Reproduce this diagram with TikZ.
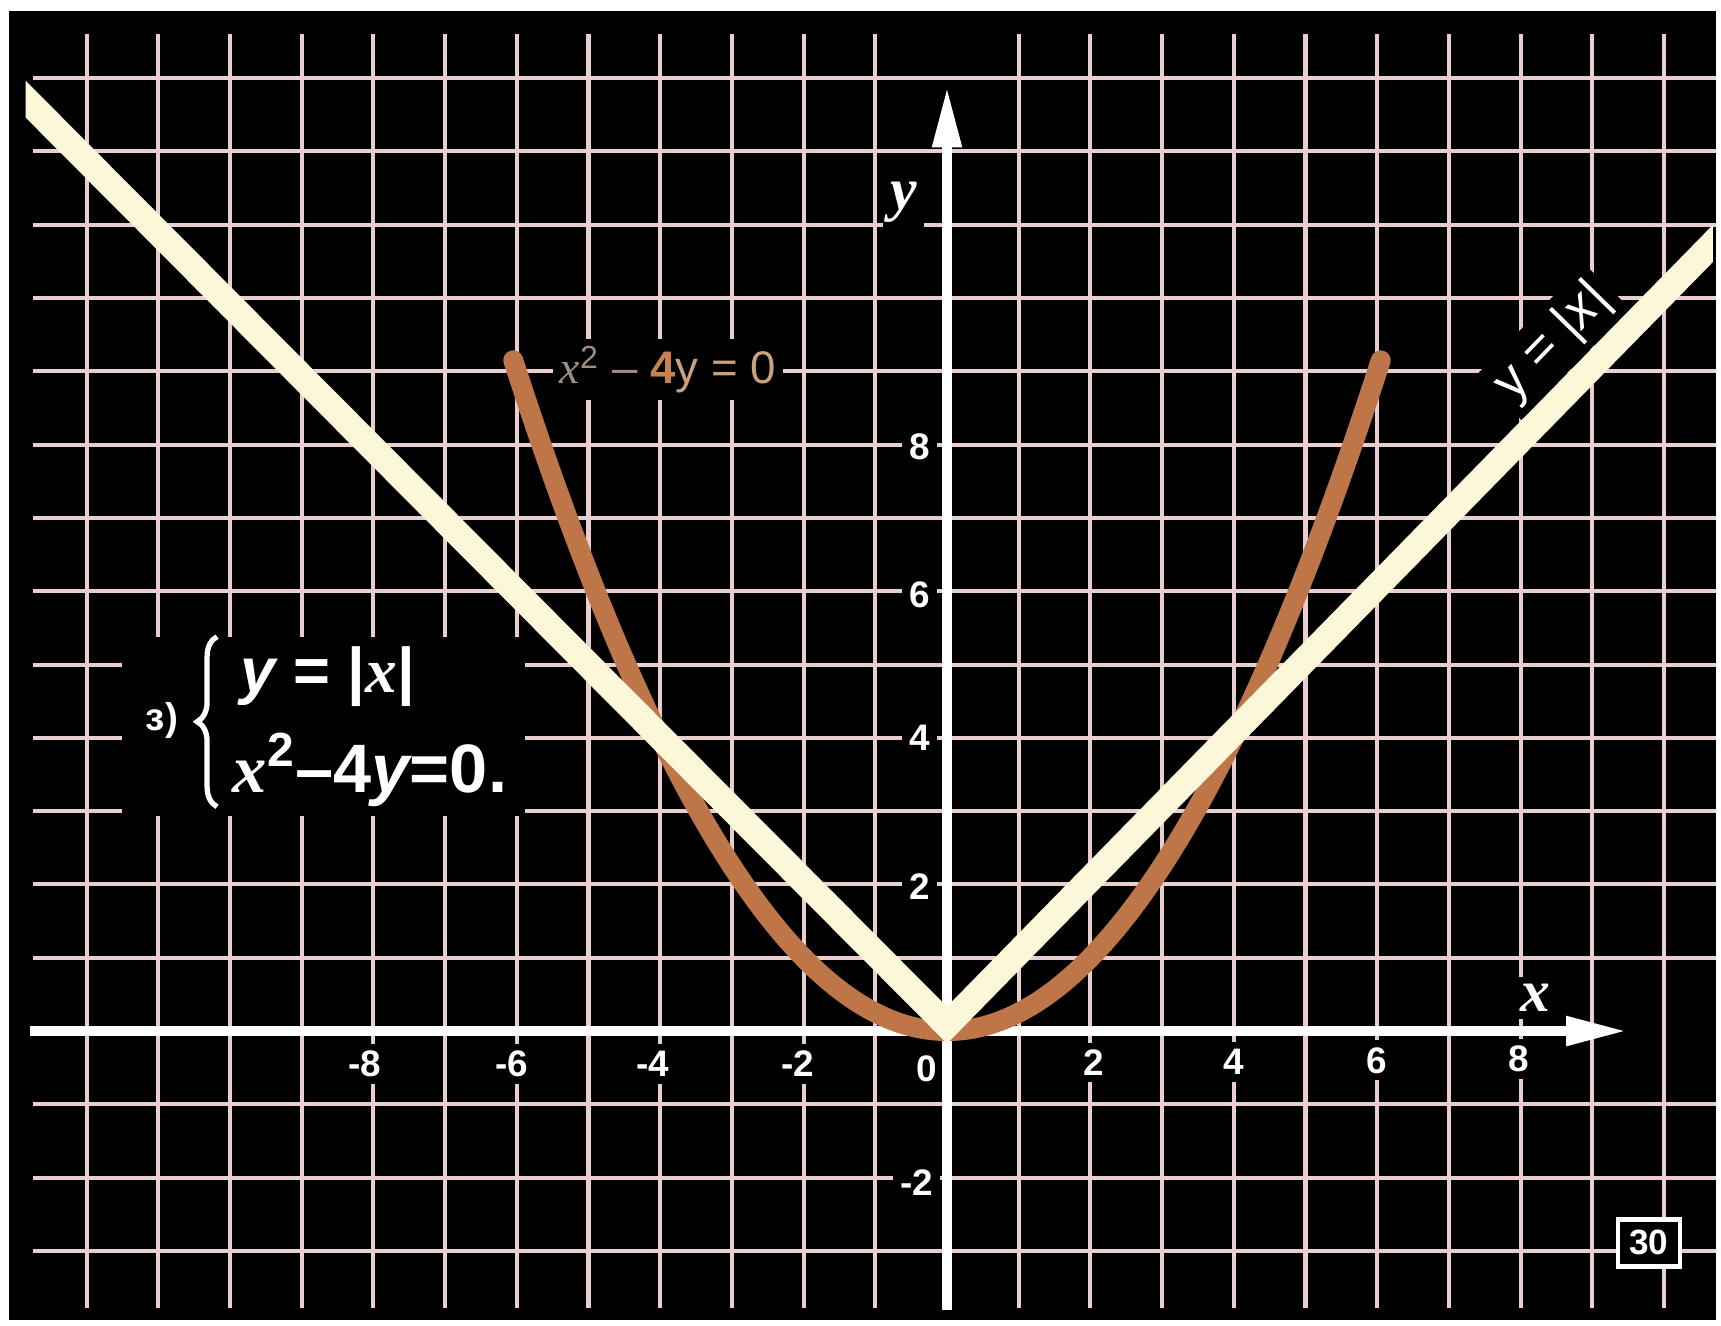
\documentclass[tikz,border=0pt]{standalone}
\usepackage{fontspec}
\setmainfont{Liberation Sans}
\newfontfamily\serifit{Liberation Serif}
\usetikzlibrary{arrows.meta,decorations.pathreplacing}
\definecolor{gridc}{RGB}{232,206,206}
\definecolor{bandc}{RGB}{252,247,216}
\definecolor{parc}{RGB}{190,118,72}
\definecolor{lblgrey}{RGB}{160,142,132}
\definecolor{lblorange}{RGB}{200,128,76}
\definecolor{lbltan}{RGB}{200,162,122}
\begin{document}
\begin{tikzpicture}[x=0.717cm, y=0.733cm,
  gridline/.style={gridc, line width=1.15pt},
  axisline/.style={white, line width=3.1pt, -{Triangle[length=0.62cm, width=0.27cm]}},
  numlbl/.style={text=white, fill=black, inner sep=2pt, font=\bfseries\fontsize{10.5}{11}\selectfont},
  axlbl/.style={text=white, fill=black, inner sep=2pt, font=\serifit\bfseries\itshape\fontsize{17}{18}\selectfont},
  systxt/.style={text=white, font=\bfseries\fontsize{18}{20}\selectfont, inner sep=0pt, anchor=west},
]
\useasboundingbox (-13.208,-4.011) rectangle (10.795,14.066);
\fill[white] (-13.208,-4.011) rectangle (10.795,14.066);
\fill[black] (-13.08,-3.94) rectangle (10.725,13.915);
% grid
\foreach \i in {-12,...,-1,1,2,...,10} \draw[gridline] (\i,-3.78) -- (\i,13.6);
\foreach \j in {-3,-2,-1,1,2,...,13} \draw[gridline] (-12.75,\j) -- (10.72,\j);
% black panel behind the system
\fill[black] (-11.5,2.93) rectangle (-5.88,5.38);
% axis numbers
\node[numlbl] (xm8) at (-8.12,-0.45) {-8};
\node[numlbl] (xm6) at (-6.07,-0.45) {-6};
\node[numlbl] (xm4) at (-4.10,-0.45) {-4};
\node[numlbl] (xm2) at (-2.08,-0.45) {-2};
\node[numlbl] (x0) at (-0.28,-0.52) {0};
\node[numlbl] (xp2) at (2.04,-0.43) {2};
\node[numlbl] (xp4) at (4.00,-0.42) {4};
\node[numlbl] (xp6) at (6.00,-0.40) {6};
\node[numlbl] (xp8) at (7.97,-0.38) {8};
\node[numlbl] (yp8) at (-0.38,7.97) {8};
\node[numlbl] (yp6) at (-0.38,5.95) {6};
\node[numlbl] (yp4) at (-0.38,4.00) {4};
\node[numlbl] (yp2) at (-0.38,1.97) {2};
\node[numlbl] (ym2) at (-0.42,-2.07) {-2};
\node[axlbl] (ylab) at (-0.61,11.3) {y};
\node[axlbl] (xlab) at (8.2,0.45) {x};
% axes
\coordinate (xs) at (-12.79,0);
\coordinate (xe) at (9.5,0);
\coordinate (ys) at (0,-3.8);
\coordinate (ye) at (0,12.9);
\draw[axisline] (xs) -- (xe);
\draw[axisline] (ys) -- (ye);
% parabola x^2-4y=0
\draw[parc, line width=0.2cm, line cap=round] plot[domain=-6.05:6.05, samples=121, smooth] (\x,{\x*\x/4});
% y=|x|
\coordinate (bl) at (-14.2,14.04);
\coordinate (bo) at (0,0.08);
\coordinate (br) at (12,12.06);
\begin{scope}
\clip (-12.85,-5) rectangle (10.68,15);
\draw[bandc, line width=0.26cm, line join=miter] (bl) -- (bo) -- (br);
\end{scope}
% curve labels
\node[fill=black, inner sep=2pt, font=\fontsize{13}{14}\selectfont] (plbl) at (-3.89,9.02)
  {\textcolor{lblgrey}{{\serifit\itshape x}\textsuperscript{2} --} \textcolor{lblorange}{\bfseries 4}\textcolor{lbltan}{y = 0}};
\node[rotate=45.8, fill=black, text=white, inner sep=2pt, font=\fontsize{15}{16}\selectfont] (blbl) at (8.45,9.4)
  {y = |\textit{x}|};
% system
\node[text=white, font=\bfseries\fontsize{11}{12}\selectfont, inner sep=0pt] (num) at (-10.95,4.24) {з)};
\draw[white, line width=1.5pt, decorate, decoration={brace, amplitude=0.2cm}] (-10.18,3.06) -- (-10.18,5.38);
\node[systxt] (eq1) at (-9.86,4.83) {{\itshape y} = |{\serifit\itshape x}|};
\node[systxt, font=\bfseries\fontsize{19.5}{21}\selectfont] (eq2) at (-9.97,3.56) {{\serifit\itshape x}\textsuperscript{2}--4{\itshape y}=0.};
% page number
\node[draw=white, line width=1.3pt, fill=black, text=white, minimum width=0.62cm, minimum height=0.47cm, inner sep=0pt, font=\bfseries\fontsize{10}{10}\selectfont] (pg) at (9.79,-2.89) {30};
\end{tikzpicture}
\end{document}
